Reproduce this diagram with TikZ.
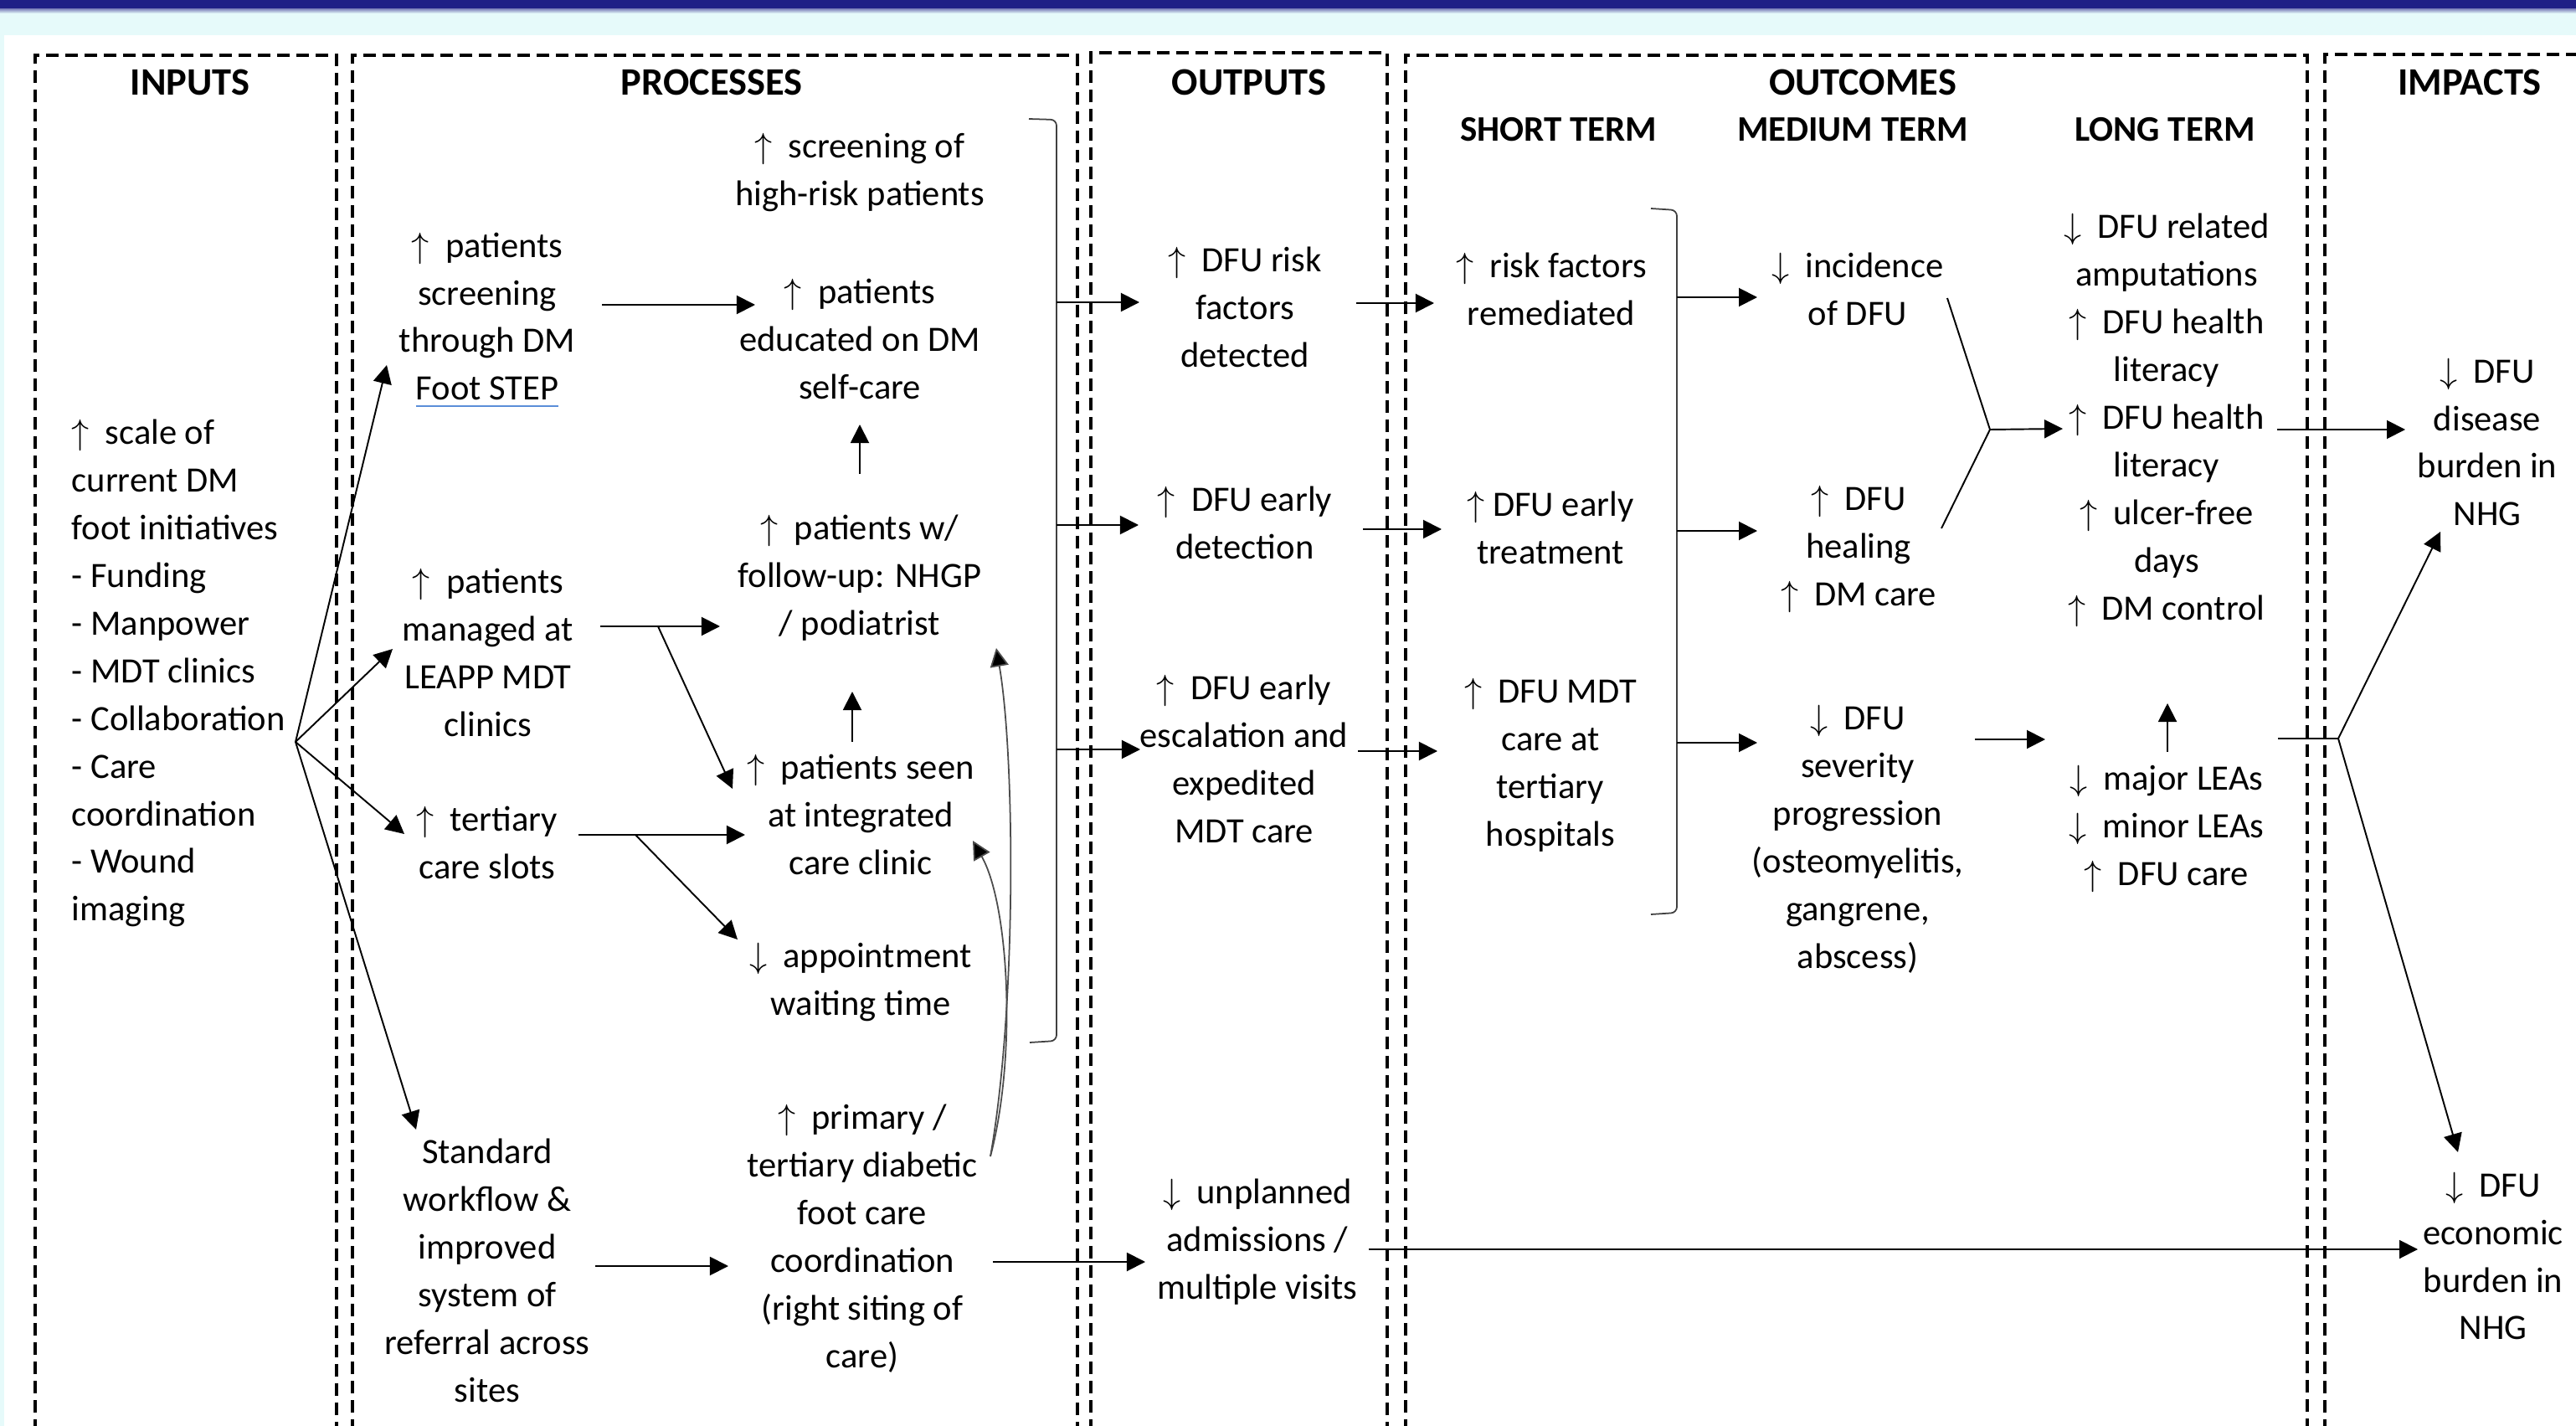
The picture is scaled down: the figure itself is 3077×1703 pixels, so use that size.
\documentclass[tikz,border=0pt]{standalone}
\usepackage{fontspec}
\setmainfont{Carlito}
\usetikzlibrary{arrows.meta}
\definecolor{navyband}{HTML}{1F1F86}
\definecolor{bandcyan}{HTML}{E6FAFA}
\definecolor{ulblue}{HTML}{5B8ED8}
\newcommand{\myup}{$\uparrow$\kern0.22em}
\newcommand{\mydn}{$\downarrow$\kern0.22em}
\newcommand{\blueul}[1]{\setbox0=\hbox{#1}\leavevmode\rlap{\color{ulblue}\rule[-2.4pt]{\wd0}{0.7pt}}\box0}
\tikzset{
  txt/.style={align=center, inner sep=0pt, font=\fontsize{12.1}{16.2}\selectfont},
  head/.style={inner sep=0pt, font=\fontsize{13.2}{16}\selectfont\bfseries},
  subhead/.style={inner sep=0pt, font=\fontsize{12.2}{16}\selectfont\bfseries},
  frame/.style={line width=1.15pt, dash pattern=on 0.15cm off 0.08cm},
  arr/.style={line width=0.55pt, -{Triangle[length=0.22cm,width=0.22cm]}},
  conn/.style={line width=0.55pt},
  brk/.style={line width=0.5pt, draw=black!75, rounded corners=2},
  curv/.style={line width=0.5pt, draw=black!70, -{Triangle[length=0.22cm,width=0.22cm,fill=black]}},
}
\begin{document}
\begin{tikzpicture}[x=0.01cm,y=-0.01cm]
\useasboundingbox (0,0) rectangle (3077,1703);
\fill[white] (0,0) rectangle (3077,1703);
% top band
\fill[bandcyan] (0,0) rectangle (3077,42);
\fill[bandcyan] (0,0) rectangle (5,1703);
\shade[top color=navyband!70, bottom color=bandcyan] (0,9) rectangle (3077,16);
\fill[navyband] (0,0) rectangle (3077,10);
% frames
\draw[frame] (42,1710) -- (42,66) -- (402,66) -- (402,1710);
\draw[frame] (421,1710) -- (421,66) -- (1287,66) -- (1287,1710);
\draw[frame] (1303,1710) -- (1303,63) -- (1657,63) -- (1657,1710);
\draw[frame] (1679,1710) -- (1679,66) -- (2756,66) -- (2756,1710);
\draw[frame] (2777,1710) -- (2777,65) -- (3090,65);
% headers
\node[head] (hIn) at (227,98) {INPUTS};
\node[head] (hProc) at (850,98) {PROCESSES};
\node[head] (hOut) at (1492,98) {OUTPUTS};
\node[head] (hOutc) at (2225,98) {OUTCOMES};
\node[head] (hImp) at (2950,98) {IMPACTS};
\node[subhead] (hShort) at (1862,155) {SHORT TERM};
\node[subhead] (hMed) at (2213,155) {MEDIUM TERM};
\node[subhead] (hLong) at (2586,155) {LONG TERM};
% inputs
\node[txt, align=left, anchor=west] (inp) at (85,804) {\myup{} scale of\\current DM\\foot initiatives\\- Funding\\- Manpower\\- MDT clinics\\- Collaboration\\- Care\\coordination\\- Wound\\imaging};
% processes
\node[txt] (P1) at (582,382) {\myup{} patients\\screening\\through DM\\\blueul{Foot STEP}};
\node[txt] (P2) at (583,779) {\myup{} patients\\managed at\\LEAPP MDT\\clinics};
\node[txt] (P3) at (582,1006) {\myup{} tertiary\\care slots};
\node[txt] (P4) at (582,1517) {Standard\\workflow \&\\improved\\system of\\referral across\\sites};
\node[txt] (Q1) at (1027,206) {\myup{} screening of\\high-risk patients};
\node[txt] (Q2) at (1027,405) {\myup{} patients\\educated on DM\\self-care};
\node[txt] (Q3) at (1027,690) {\myup{} patients w/\\follow-up: NHGP\\/ podiatrist};
\node[txt] (Q4) at (1028,973) {\myup{} patients seen\\at integrated\\care clinic};
\node[txt] (Q5) at (1028,1173) {\mydn{} appointment\\waiting time};
\node[txt] (Q6) at (1030,1479) {\myup{} primary /\\tertiary diabetic\\foot care\\coordination\\(right siting of\\care)};
% outputs
\node[txt] (O1) at (1487,367) {\myup{} DFU risk\\factors\\detected};
\node[txt] (O2) at (1487,624) {\myup{} DFU early\\detection};
\node[txt] (O3) at (1486,906) {\myup{} DFU early\\escalation and\\expedited\\MDT care};
\node[txt] (O4) at (1502,1483) {\mydn{} unplanned\\admissions /\\multiple visits};
% outcomes
\node[txt] (S1) at (1853,345) {\myup{} risk factors\\remediated};
\node[txt] (S2) at (1852,630) {\myup DFU early\\treatment};
\node[txt] (S3) at (1852,914) {\myup{} DFU MDT\\care at\\tertiary\\hospitals};
\node[txt] (M1) at (2219,345) {\mydn{} incidence\\of DFU};
\node[txt] (M2) at (2220,656) {\myup{} DFU\\healing\\\myup{} DM care};
\node[txt] (M3) at (2219,1002) {\mydn{} DFU\\severity\\progression\\(osteomyelitis,\\gangrene,\\abscess)};
\node[txt] (L1) at (2588,502) {\mydn{} DFU related\\amputations\\\myup{} DFU health\\literacy\\\myup{} DFU health\\literacy\\\myup{} ulcer-free\\days\\\myup{} DM control};
\node[txt] (L2) at (2588,990) {\mydn{} major LEAs\\\mydn{} minor LEAs\\\myup{} DFU care};
% impacts
\node[txt] (I1) at (2971,528) {\mydn{} DFU\\disease\\burden in\\NHG};
\node[txt] (I2) at (2978,1500) {\mydn{} DFU\\economic\\burden in\\NHG};
% junction coordinates
\coordinate (fan) at (353,886);
\coordinate (bp1) at (1262,361);
\coordinate (bp2) at (1262,627);
\coordinate (bp3) at (1262,895);
\coordinate (bo1) at (2003,355);
\coordinate (bo2) at (2003,634);
\coordinate (bo3) at (2003,887);
\coordinate (J1) at (2377,513);
\coordinate (J2) at (2793,882);
% brackets
\draw[brk] (1229,142) -- (1262,143) -- (1262,1243) -- (1230,1245);
\draw[brk] (1972,249) -- (2003,251) -- (2003,1090) -- (1972,1092);
% input fan
\draw[arr] (fan) -- ([shift={(-120,54)}]P1.center);
\draw[arr] (fan) -- ([shift={(-114,-4)}]P2.center);
\draw[arr] (fan) -- ([shift={(-99,-10)}]P3.center);
\draw[arr] (fan) -- ([shift={(-85,-168)}]P4.center);
% processes
\draw[arr] ([shift={(137,-18)}]P1.center) -- ([shift={(-125,-41)}]Q2.center);
\draw[arr] ([shift={(134,-31)}]P2.center) -- ([shift={(-167,58)}]Q3.center);
\draw[arr] ([shift={(203,-31)}]P2.center) -- ([shift={(-153,-31)}]Q4.center);
\draw[arr] ([shift={(109,-9)}]P3.center) -- ([shift={(-138,24)}]Q4.center);
\draw[arr] ([shift={(177,-9)}]P3.center) -- ([shift={(-147,-51)}]Q5.center);
\draw[arr] ([shift={(129,-5)}]P4.center) -- ([shift={(-160,33)}]Q6.center);
\draw[arr] ([shift={(-10,-87)}]Q4.center) -- ([shift={(-9,136)}]Q3.center);
\draw[arr] ([shift={(0,-124)}]Q3.center) -- ([shift={(0,102)}]Q2.center);
\draw[curv] ([shift={(153,-98)}]Q6.center) .. controls (1215,1200) and (1212,900) .. ([shift={(163,84)}]Q3.center);
\draw[curv] ([shift={(153,-98)}]Q6.center) .. controls (1215,1260) and (1205,1080) .. ([shift={(134,31)}]Q4.center);
% to outputs
\draw[arr] (bp1) -- ([shift={(-126,-6)}]O1.center);
\draw[arr] (bp2) -- ([shift={(-127,3)}]O2.center);
\draw[arr] (bp3) -- ([shift={(-124,-11)}]O3.center);
\draw[arr] ([shift={(156,28)}]Q6.center) -- ([shift={(-134,24)}]O4.center);
% outputs to outcomes
\draw[arr] ([shift={(133,-5)}]O1.center) -- ([shift={(-140,17)}]S1.center);
\draw[arr] ([shift={(141,8)}]O2.center) -- ([shift={(-130,2)}]S2.center);
\draw[arr] ([shift={(136,-9)}]O3.center) -- ([shift={(-135,-17)}]S3.center);
\draw[arr] ([shift={(133,9)}]O4.center) -- ([shift={(-90,-8)}]I2.center);
% short to medium
\draw[arr] (bo1) -- ([shift={(-120,10)}]M1.center);
\draw[arr] (bo2) -- ([shift={(-121,-22)}]M2.center);
\draw[arr] (bo3) -- ([shift={(-120,-115)}]M3.center);
% medium to long
\draw[conn] ([shift={(107,11)}]M1.center) -- (J1);
\draw[conn] ([shift={(99,-25)}]M2.center) -- (J1);
\draw[arr] (J1) -- ([shift={(-124,10)}]L1.center);
\draw[arr] ([shift={(140,-119)}]M3.center) -- ([shift={(-145,-107)}]L2.center);
\draw[arr] ([shift={(1,-92)}]L2.center) -- ([shift={(1,338)}]L1.center);
% long to impacts
\draw[arr] ([shift={(132,11)}]L1.center) -- ([shift={(-98,-15)}]I1.center);
\draw[conn] ([shift={(133,-108)}]L2.center) -- (J2);
\draw[arr] (J2) -- ([shift={(-56,107)}]I1.center);
\draw[arr] (J2) -- ([shift={(-42,-124)}]I2.center);
\end{tikzpicture}
\end{document}
